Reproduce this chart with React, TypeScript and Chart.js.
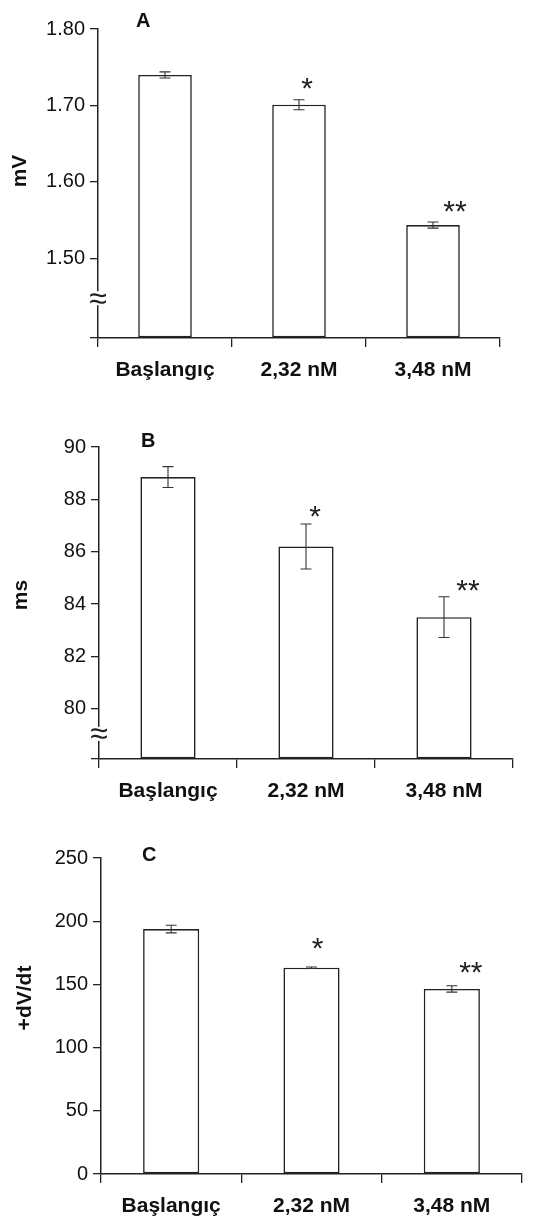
import React, { useEffect, useRef } from 'react';
import { Chart, registerables } from 'chart.js';
Chart.register(...registerables);

const FONT = "'Liberation Sans', Arial, Helvetica, sans-serif";

const categories = ['Başlangıç', '2,32 nM', '3,48 nM'];

const mvValues = [1.74, 1.701, 1.5436];
const mvErrors = [0.004, 0.0065, 0.004];
const mvTicks = [1.5, 1.6, 1.7, 1.8];
const mvStars = ['', '*', '**'];

const msValues = [88.85, 86.2, 83.5];
const msErrors = [0.4, 0.86, 0.78];
const msTicks = [80, 82, 84, 86, 88, 90];
const msStars = ['', '*', '**'];

const dvValues = [193.8, 163.2, 146.4];
const dvErrors = [3, 0.6, 2.5];
const dvTicks = [0, 50, 100, 150, 200, 250];
const dvStars = ['', '*', '**'];

type PanelCfg = {
  top: number; height: number;
  left: number; right: number; chartTop: number; chartBottom: number;
  yMin: number; yMax: number; decimals: number; brk: boolean;
  letter: string; letterX: number; letterY: number;
  yTitle: string; yTitleX: number; yTitleY: number;
  values: number[]; errors: number[]; ticks: number[]; stars: string[];
  starDx: number[]; starDy: number[];
};

const panels: PanelCfg[] = [
  {
    top: 0, height: 400, left: 98, right: 500, chartTop: 29, chartBottom: 338,
    yMin: 1.396, yMax: 1.8, decimals: 2, brk: true,
    letter: 'A', letterX: 136, letterY: 27, yTitle: 'mV', yTitleX: 20, yTitleY: 171,
    values: mvValues, errors: mvErrors, ticks: mvTicks, stars: mvStars,
    starDx: [0, 8, 22], starDy: [0, 16, 16],
  },
  {
    top: 400, height: 410, left: 99, right: 513, chartTop: 47, chartBottom: 359,
    yMin: 78.08, yMax: 90, decimals: 0, brk: true,
    letter: 'B', letterX: 141, letterY: 47, yTitle: 'ms', yTitleX: 21, yTitleY: 195,
    values: msValues, errors: msErrors, ticks: msTicks, stars: msStars,
    starDx: [0, 9, 24], starDy: [0, 12, 11],
  },
  {
    top: 810, height: 410, left: 101, right: 522, chartTop: 48, chartBottom: 364,
    yMin: 0, yMax: 250, decimals: 0, brk: false,
    letter: 'C', letterX: 142, letterY: 51, yTitle: '+dV/dt', yTitleX: 25, yTitleY: 188,
    values: dvValues, errors: dvErrors, ticks: dvTicks, stars: dvStars,
    starDx: [0, 6, 19], starDy: [0, 23, 18],
  },
];

function Panel({ cfg }: { cfg: PanelCfg }) {
  const ref = useRef<HTMLCanvasElement>(null);
  useEffect(() => {
    const canvas = ref.current!;
    const overlay = {
      id: 'overlay',
      afterDatasetsDraw(chart: any) {
        const ctx = chart.ctx as CanvasRenderingContext2D;
        const meta = chart.getDatasetMeta(0);
        const ys = chart.scales.y;
        ctx.save();
        // error bars
        ctx.strokeStyle = '#333';
        ctx.lineWidth = 1.1;
        meta.data.forEach((bar: any, i: number) => {
          const x = bar.x;
          const t = ys.getPixelForValue(cfg.values[i] + cfg.errors[i]);
          const b = ys.getPixelForValue(cfg.values[i] - cfg.errors[i]);
          ctx.beginPath();
          ctx.moveTo(x, t); ctx.lineTo(x, b);
          ctx.moveTo(x - 5.5, t); ctx.lineTo(x + 5.5, t);
          ctx.moveTo(x - 5.5, b); ctx.lineTo(x + 5.5, b);
          ctx.stroke();
          const s = cfg.stars[i];
          if (s) {
            ctx.font = `30px ${FONT}`;
            ctx.fillStyle = '#222';
            ctx.textAlign = 'center';
            ctx.textBaseline = 'alphabetic';
            const m = ctx.measureText(s);
            const cy = t - cfg.starDy[i];
            const base = cy + (m.actualBoundingBoxAscent - m.actualBoundingBoxDescent) / 2;
            ctx.fillText(s, x + cfg.starDx[i], base);
          }
        });
        // axis break
        if (cfg.brk) {
          const by = ys.getPixelForValue((cfg.yMin + cfg.ticks[0]) / 2);
          const ax = chart.chartArea.left;
          ctx.fillStyle = '#fff';
          ctx.fillRect(ax - 3, by - 7, 6, 14);
          ctx.fillStyle = '#222';
          ctx.font = `32px ${FONT}`;
          ctx.textAlign = 'center';
          ctx.textBaseline = 'alphabetic';
          const m = ctx.measureText('≈');
          ctx.fillText('≈', ax, by + (m.actualBoundingBoxAscent - m.actualBoundingBoxDescent) / 2);
        }
        // panel letter
        ctx.fillStyle = '#111';
        ctx.font = `bold 20px ${FONT}`;
        ctx.textAlign = 'left';
        ctx.textBaseline = 'alphabetic';
        ctx.fillText(cfg.letter, cfg.letterX, cfg.letterY);
        // y title
        ctx.translate(cfg.yTitleX, cfg.yTitleY);
        ctx.rotate(-Math.PI / 2);
        ctx.font = `bold 21px ${FONT}`;
        ctx.textAlign = 'center';
        ctx.textBaseline = 'middle';
        ctx.fillText(cfg.yTitle, 0, 0);
        ctx.restore();
      },
    };
    const chart = new Chart(canvas, {
      type: 'bar',
      data: {
        labels: categories,
        datasets: [{
          data: cfg.values,
          backgroundColor: '#ffffff',
          borderColor: '#222',
          borderWidth: 1.6,
          borderSkipped: false,
          base: cfg.yMin,
          barPercentage: 0.4,
          categoryPercentage: 1,
        } as any],
      },
      options: {
        animation: false,
        responsive: false,
        devicePixelRatio: 1,
        layout: { padding: { left: 0, right: 547 - cfg.right, top: cfg.chartTop, bottom: 0 } },
        plugins: { legend: { display: false }, tooltip: { enabled: false } },
        scales: {
          x: {
            grid: { display: true, drawOnChartArea: false, drawTicks: true, tickLength: 9, color: '#222', lineWidth: 1.3 },
            border: { display: true, color: '#222', width: 1.5 },
            ticks: { color: '#111', font: { family: FONT, size: 21, weight: 'bold' }, padding: 11, maxRotation: 0, autoSkip: false },
            afterFit: (s: any) => { s.height = cfg.height - cfg.chartBottom; },
          } as any,
          y: {
            min: cfg.yMin,
            max: cfg.yMax,
            grid: { display: true, drawOnChartArea: false, drawTicks: true, tickLength: 8, color: '#222', lineWidth: 1.3 },
            border: { display: true, color: '#222', width: 1.5 },
            ticks: {
              color: '#111',
              font: { family: FONT, size: 20 },
              padding: 5,
              callback: (v: any) => (v === cfg.yMin && !cfg.ticks.includes(v) ? '' : Number(v).toFixed(cfg.decimals)),
            },
            afterBuildTicks: (s: any) => {
              const vals = cfg.ticks.includes(cfg.yMin) ? cfg.ticks : [cfg.yMin, ...cfg.ticks];
              s.ticks = vals.map((v) => ({ value: v }));
            },
            afterFit: (s: any) => { s.width = cfg.left; },
          } as any,
        },
      },
      plugins: [overlay],
    });
    return () => chart.destroy();
  }, []);
  return (
    <canvas
      ref={ref}
      width={547}
      height={cfg.height}
      style={{ position: 'absolute', left: 0, top: cfg.top, width: 547, height: cfg.height, display: 'block' }}
    />
  );
}

export default function App() {
  return (
    <div style={{ position: 'absolute', left: 0, top: 0, width: 547, height: 1220, background: '#fff', overflow: 'hidden' }}>
      {panels.map((p, i) => (
        <Panel key={i} cfg={p} />
      ))}
    </div>
  );
}
